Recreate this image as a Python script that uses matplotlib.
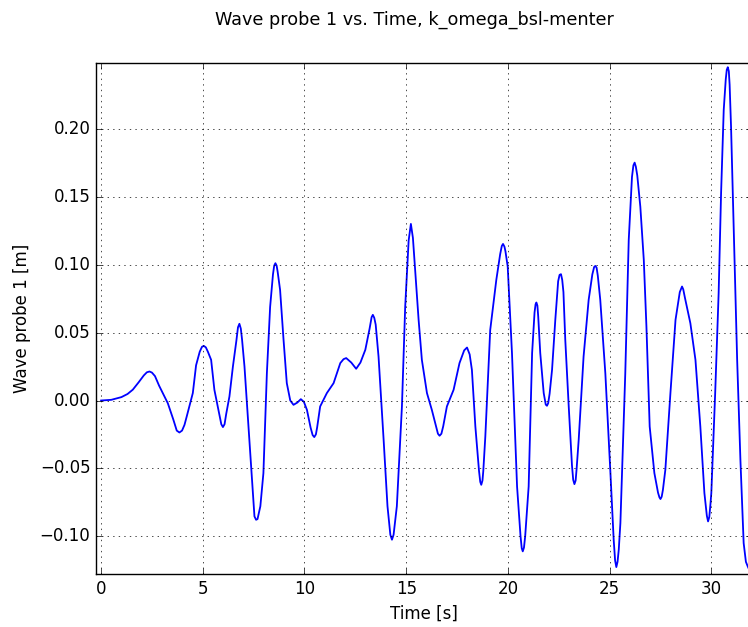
import numpy as np
import matplotlib
matplotlib.use("Agg")
import matplotlib.pyplot as plt

plt.style.use("classic")

# wave probe 1 signal
time = [0.00, 0.50, 1.00, 1.30, 1.56, 1.85, 2.10, 2.25, 2.38, 2.50, 2.65, 2.85,
        3.03, 3.28, 3.55, 3.72, 3.85, 3.98, 4.10, 4.21, 4.51, 4.67, 4.85, 4.96,
        5.05, 5.15, 5.25, 5.41, 5.57, 5.78, 5.91, 5.99, 6.07, 6.15, 6.31, 6.48,
        6.65, 6.73, 6.80, 6.87, 6.93, 7.05, 7.30, 7.54, 7.62, 7.69, 7.83, 7.98,
        8.15, 8.31, 8.45, 8.51, 8.57, 8.63, 8.68, 8.80, 8.97, 9.13, 9.30, 9.46,
        9.65, 9.82, 9.97, 10.12, 10.30, 10.40, 10.48, 10.56, 10.62, 10.77, 11.10,
        11.43, 11.76, 11.92, 12.05, 12.30, 12.54, 12.75, 12.99, 13.20, 13.30,
        13.36, 13.43, 13.50, 13.64, 13.89, 14.08, 14.22, 14.30, 14.38, 14.54,
        14.79, 14.95, 15.12, 15.23, 15.33, 15.44, 15.61, 15.77, 16.02, 16.26,
        16.45, 16.56, 16.64, 16.73, 16.82, 17.00, 17.33, 17.62, 17.85, 17.99,
        18.12, 18.23, 18.40, 18.58, 18.64, 18.69, 18.75, 18.79, 18.89, 19.13,
        19.43, 19.62, 19.70, 19.76, 19.83, 19.88, 19.99, 20.20, 20.45, 20.62,
        20.68, 20.73, 20.79, 20.85, 21.02, 21.19, 21.31, 21.36, 21.40, 21.45,
        21.49, 21.59, 21.76, 21.86, 21.92, 21.98, 22.05, 22.17, 22.33, 22.47,
        22.54, 22.61, 22.67, 22.73, 22.82, 22.99, 23.15, 23.21, 23.27, 23.33,
        23.38, 23.48, 23.72, 23.97, 24.15, 24.24, 24.30, 24.36, 24.42, 24.54,
        24.79, 25.04, 25.20, 25.27, 25.33, 25.39, 25.45, 25.53, 25.77, 25.94,
        26.10, 26.17, 26.23, 26.29, 26.36, 26.51, 26.68, 26.81, 26.97, 27.20,
        27.38, 27.45, 27.50, 27.56, 27.62, 27.74, 27.99, 28.24, 28.45, 28.56,
        28.62, 28.70, 28.97, 29.22, 29.46, 29.66, 29.78, 29.84, 29.90, 29.96,
        30.00, 30.19, 30.36, 30.48, 30.61, 30.71, 30.76, 30.81, 30.86, 30.90,
        30.97, 31.10, 31.27, 31.43, 31.59, 31.70, 31.79, 31.90, 32.00]
probe1 = [0.0000, 0.0005, 0.0025, 0.0048, 0.0080, 0.0135, 0.0185, 0.0208, 0.0214,
          0.0206, 0.0180, 0.0110, 0.0055, -0.0020, -0.0140, -0.0222, -0.0236,
          -0.0222, -0.0180, -0.0118, 0.0055, 0.0260, 0.0360, 0.0396, 0.0403,
          0.0392, 0.0360, 0.0300, 0.0079, -0.0080, -0.0175, -0.0196, -0.0175,
          -0.0100, 0.0030, 0.0250, 0.0440, 0.0540, 0.0566, 0.0530, 0.0450,
          0.0250, -0.0310, -0.0855, -0.0880, -0.0875, -0.0780, -0.0536, 0.0200,
          0.0690, 0.0930, 0.0995, 0.1013, 0.0995, 0.0950, 0.0816, 0.0448, 0.0128,
          0.0000, -0.0032, -0.0015, 0.0010, -0.0010, -0.0069, -0.0200, -0.0255,
          -0.0270, -0.0250, -0.0200, -0.0044, 0.0055, 0.0128, 0.0276, 0.0305,
          0.0313, 0.0280, 0.0234, 0.0280, 0.0374, 0.0530, 0.0615, 0.0632, 0.0610,
          0.0560, 0.0324, -0.0290, -0.0780, -0.0990, -0.1027, -0.0990, -0.0780,
          -0.0044, 0.0690, 0.1180, 0.1303, 0.1200, 0.0964, 0.0595, 0.0300, 0.0055,
          -0.0069, -0.0180, -0.0245, -0.0260, -0.0245, -0.0190, -0.0044, 0.0079,
          0.0276, 0.0370, 0.0391, 0.0340, 0.0226, -0.0192, -0.0520, -0.0600,
          -0.0622, -0.0590, -0.0520, -0.0265, 0.0520, 0.0890, 0.1080, 0.1140,
          0.1155, 0.1135, 0.1100, 0.0988, 0.0350, -0.0634, -0.1000, -0.1090,
          -0.1113, -0.1085, -0.1000, -0.0634, 0.0350, 0.0650, 0.0710, 0.0723,
          0.0700, 0.0620, 0.0350, 0.0055, -0.0030, -0.0039, -0.0020, 0.0050,
          0.0226, 0.0595, 0.0880, 0.0927, 0.0932, 0.0890, 0.0800, 0.0448, -0.0044,
          -0.0480, -0.0585, -0.0617, -0.0590, -0.0500, -0.0290, 0.0324, 0.0743,
          0.0930, 0.0985, 0.0993, 0.0980, 0.0920, 0.0743, 0.0200, -0.0535,
          -0.1027, -0.1180, -0.1229, -0.1190, -0.1100, -0.0904, 0.0200, 0.1185,
          0.1650, 0.1735, 0.1755, 0.1725, 0.1660, 0.1430, 0.1038, 0.0546, -0.0192,
          -0.0535, -0.0680, -0.0715, -0.0727, -0.0710, -0.0660, -0.0511, 0.0055,
          0.0595, 0.0800, 0.0841, 0.0820, 0.0760, 0.0570, 0.0300, -0.0192,
          -0.0683, -0.0850, -0.0892, -0.0860, -0.0760, -0.0683, 0.0055, 0.0792,
          0.1530, 0.2144, 0.2370, 0.2440, 0.2459, 0.2430, 0.2330, 0.2020, 0.1280,
          0.0300, -0.0437, -0.1052, -0.1190, -0.1224, -0.1260, -0.1275]

fig = plt.figure(figsize=(7.48, 6.27), facecolor="white")
ax = fig.add_axes([96 / 748, 53 / 627, 656 / 748, 511 / 627])

ax.plot(time, probe1, "b-", linewidth=1.3)

ax.set_xlim(-0.25, 32)
ax.set_ylim(-0.128, 0.249)
ax.set_xticks([0, 5, 10, 15, 20, 25, 30])
ax.set_yticks([-0.10, -0.05, 0.00, 0.05, 0.10, 0.15, 0.20])
ax.set_yticklabels(["\u22120.10", "\u22120.05", "0.00", "0.05", "0.10", "0.15", "0.20"])
ax.tick_params(labelsize=12)
ax.grid(True)

ax.set_xlabel("Time [s]", fontsize=12)
ax.set_ylabel("Wave probe 1 [m]", fontsize=12, labelpad=6)
fig.text(414 / 748, 1 - 20 / 627, "Wave probe 1 vs. Time, k_omega_bsl-menter",
         ha="center", va="center", fontsize=12.7)

fig.savefig("out.png", dpi=100, facecolor="white")
